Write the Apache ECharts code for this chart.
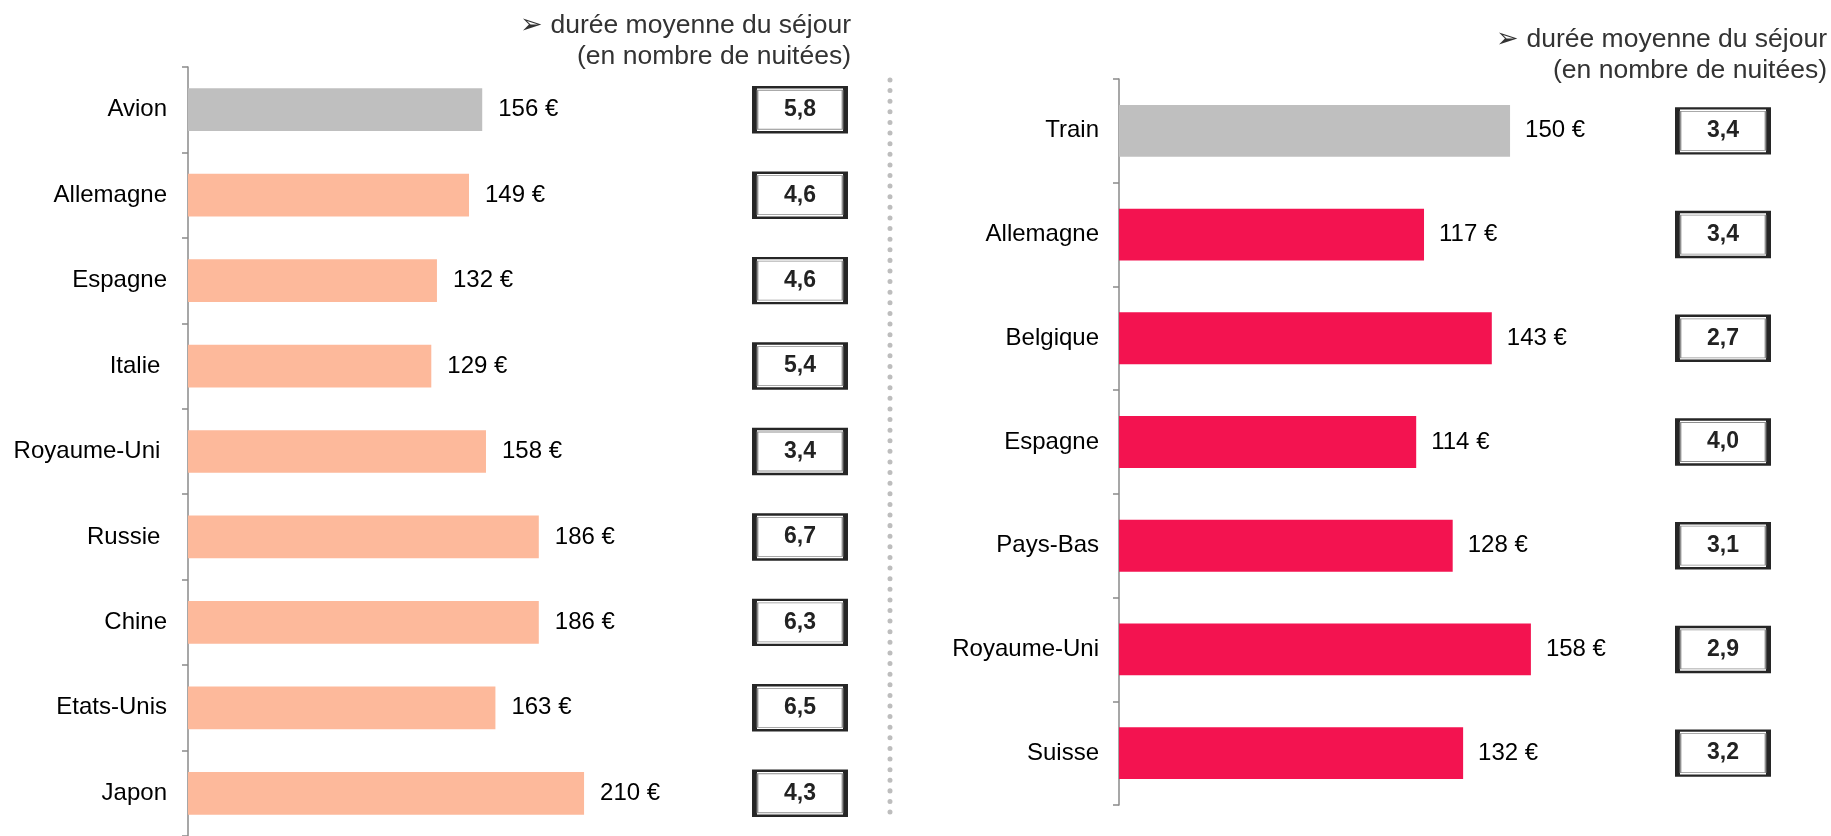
<!DOCTYPE html>
<html>
<head>
<meta charset="utf-8">
<script src="https://cdn.jsdelivr.net/npm/echarts@6/dist/echarts.min.js"></script>
<style>
  html, body { margin: 0; padding: 0; background: #fff; }
  #main { width: 1831px; height: 836px; }
</style>
</head>
<body>
<div id="main"></div>
<script>
// left block: plane trips
var leftCats = ['Avion', 'Allemagne', 'Espagne', 'Italie ', 'Royaume-Uni ', 'Russie ', 'Chine', 'Etats-Unis', 'Japon'];
var leftSpend = [156, 149, 132, 129, 158, 186, 186, 163, 210];
var leftNights = [5.8, 4.6, 4.6, 5.4, 3.4, 6.7, 6.3, 6.5, 4.3];

// right block: train trips
var rightCats = ['Train', 'Allemagne', 'Belgique', 'Espagne', 'Pays-Bas', 'Royaume-Uni', 'Suisse'];
var rightSpend = [150, 117, 143, 114, 128, 158, 132];
var rightNights = [3.4, 3.4, 2.7, 4.0, 3.1, 2.9, 3.2];

var headerText = '\u27A2 durée moyenne du séjour\n(en nombre de nuitées)';

var FONT = 'Arial, "Liberation Sans", sans-serif';
var GREY = '#bfbfbf', SALMON = '#fdb99b', RED = '#f31350';

var chart = echarts.init(document.getElementById('main'));

function barData(vals, color) {
  return vals.map(function (v, i) {
    return { value: v, itemStyle: { color: i === 0 ? GREY : color } };
  });
}

function catAxis(idx, cats, margin, show) {
  return {
    type: 'category', gridIndex: idx, data: cats, inverse: true,
    axisLine: { show: show, lineStyle: { color: '#8a8a8a', width: 1.5 } },
    axisTick: { show: show, length: 6, lineStyle: { color: '#8a8a8a', width: 1.5 } },
    axisLabel: { show: show, margin: margin, color: '#000', fontSize: 24, fontFamily: FONT }
  };
}

function valAxis(idx, max) {
  return { type: 'value', gridIndex: idx, min: 0, max: max, show: false };
}

function boxSeries(idx, nights) {
  var pts = nights.map(function (v, i) { return [0.5, i]; });
  return [{
    type: 'scatter', xAxisIndex: idx, yAxisIndex: idx, silent: true,
    symbol: 'rect', symbolSize: [91, 45], data: pts,
    itemStyle: { color: '#fff', borderColor: '#262626', borderWidth: 3.5, opacity: 1 }
  }, {
    type: 'scatter', xAxisIndex: idx, yAxisIndex: idx, silent: true,
    symbol: 'rect', symbolSize: [85, 39], data: pts,
    itemStyle: { color: '#fff', borderColor: '#8f8f8f', borderWidth: 1.2, opacity: 1 },
    label: {
      show: true, position: 'inside', color: '#222', fontSize: 23, fontWeight: 'bold', fontFamily: FONT,
      formatter: function (p) { return nights[p.dataIndex].toFixed(1).replace('.', ','); }
    }
  }];
}

var barLabel = {
  show: true, position: 'right', color: '#000', fontSize: 24, fontFamily: FONT,
  formatter: '{c} €'
};

function header(x, y) {
  return {
    type: 'text', x: x, y: y, silent: true,
    style: { text: headerText, fill: '#333', font: '26.5px ' + FONT, align: 'right', verticalAlign: 'top', lineHeight: 31 }
  };
}

chart.setOption({
  animation: false,
  grid: [
    { left: 188, top: 67, width: 565.8, height: 774 },
    { left: 1119, top: 79, width: 651.75, height: 726 },
    { left: 753, top: 67, width: 94, height: 774 },
    { left: 1676, top: 79, width: 94, height: 726 }
  ],
  xAxis: [valAxis(0, 300), valAxis(1, 250), valAxis(2, 1), valAxis(3, 1)],
  yAxis: [
    catAxis(0, leftCats, 21, true),
    catAxis(1, rightCats, 20, true),
    catAxis(2, leftCats, 0, false),
    catAxis(3, rightCats, 0, false)
  ],
  series: [
    {
      type: 'bar', xAxisIndex: 0, yAxisIndex: 0, barCategoryGap: '50%',
      data: barData(leftSpend, SALMON),
      label: Object.assign({ distance: 16 }, barLabel)
    },
    {
      type: 'bar', xAxisIndex: 1, yAxisIndex: 1, barCategoryGap: '50%',
      data: barData(rightSpend, RED),
      label: Object.assign({ distance: 15 }, barLabel)
    }
  ].concat(boxSeries(2, leftNights), boxSeries(3, rightNights)),
  graphic: [
    header(851, 10),
    header(1827, 24),
    {
      type: 'line', silent: true,
      shape: { x1: 890, y1: 80, x2: 890, y2: 818 },
      style: { stroke: '#bdbdbd', lineWidth: 5, lineCap: 'round', lineDash: [0.01, 10.6] }
    }
  ]
});
</script>
</body>
</html>
